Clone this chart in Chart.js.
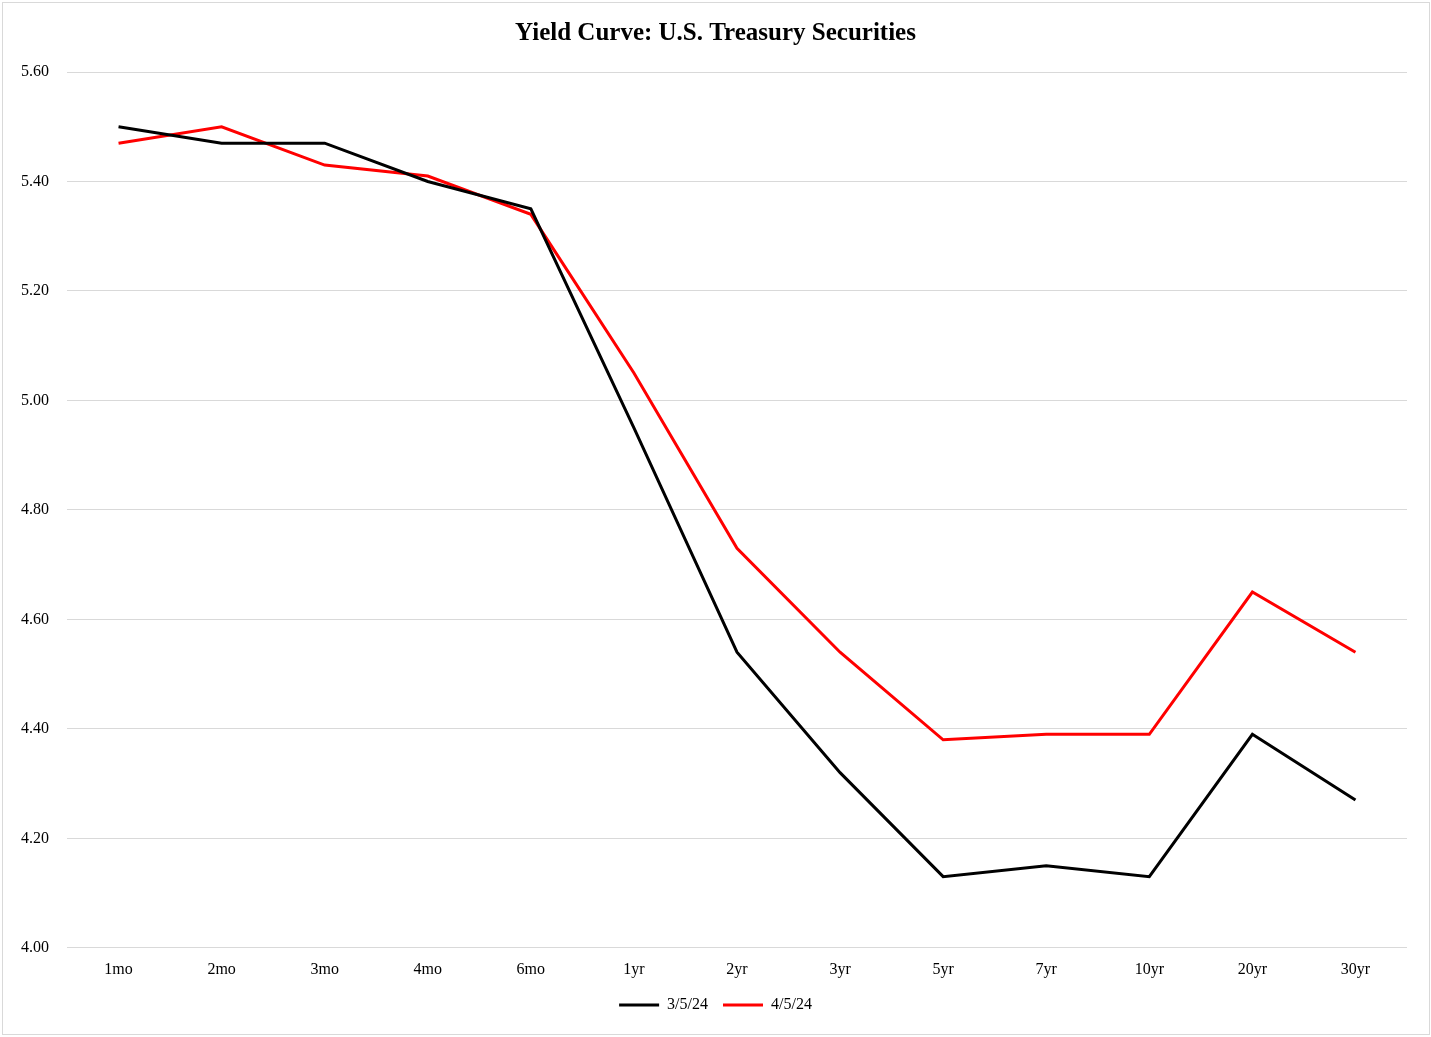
<!DOCTYPE html>
<html>
<head>
<meta charset="utf-8">
<script src="https://cdn.jsdelivr.net/npm/chart.js@4"></script>
<style>
  html, body { margin: 0; padding: 0; background: #fff; }
  #wrap { position: absolute; left: 0; top: 0; width: 1431px; height: 1037px; }
</style>
</head>
<body>
<div id="wrap"><canvas id="ctx" width="1431" height="1037"></canvas></div>
<script>
"use strict";
const maturities = ["1mo", "2mo", "3mo", "4mo", "6mo", "1yr", "2yr", "3yr", "5yr", "7yr", "10yr", "20yr", "30yr"];
const march = [5.50, 5.47, 5.47, 5.40, 5.35, 4.95, 4.54, 4.32, 4.13, 4.15, 4.13, 4.39, 4.27];
const april = [5.47, 5.50, 5.43, 5.41, 5.34, 5.05, 4.73, 4.54, 4.38, 4.39, 4.39, 4.65, 4.54];
const seriesNames = ["3/5/24", "4/5/24"];
const yMin = 4.0;
const yMax = 5.6;
const yStep = 0.2;

const serif = "'Liberation Serif', 'Times New Roman', serif";

// light grey frame round the whole picture
const framePlugin = {
  id: "frame",
  beforeDraw(chart) {
    let c = chart.ctx;
    c.save();
    c.fillStyle = "#fff";
    c.fillRect(0, 0, chart.width, chart.height);
    c.strokeStyle = "#d9d9d9";
    c.lineWidth = 1;
    c.strokeRect(2.5, 2.5, chart.width - 4, chart.height - 5);
    c.restore();
  }
};

let ctx = document.getElementById("ctx").getContext("2d");
const myChart = new Chart(ctx, {
  type: "line",
  plugins: [framePlugin],
  data: {
    labels: maturities,
    datasets: [
      { label: seriesNames[0], data: march, borderColor: "#000000", backgroundColor: "#000000", borderWidth: 3, pointRadius: 0, tension: 0 },
      { label: seriesNames[1], data: april, borderColor: "#ff0000", backgroundColor: "#ff0000", borderWidth: 3, pointRadius: 0, tension: 0 },
    ],
  },
  options: {
    responsive: false,
    animation: false,
    layout: { padding: { left: 0, right: 0, top: 0, bottom: 14 } },
    plugins: {
      title: {
        display: true,
        text: "Yield Curve: U.S. Treasury Securities",
        color: "#000",
        font: { family: serif, size: 25, weight: "bold", lineHeight: 1.2 },
        padding: { top: 19, bottom: 23 },
      },
      legend: {
        position: "bottom",
        labels: {
          color: "#000",
          font: { family: serif, size: 16 },
          usePointStyle: true,
          pointStyle: "line",
          pointStyleWidth: 40,
          padding: 15,
        },
      },
      tooltip: { enabled: false },
    },
    scales: {
      x: {
        offset: true,
        grid: { display: false, drawTicks: false },
        border: { display: false },
        afterFit(scale) { scale.height -= 9; },
        ticks: { color: "#000", font: { family: serif, size: 16 }, padding: 12, maxRotation: 0 },
      },
      y: {
        min: yMin,
        max: yMax,
        grid: { color: "#d9d9d9", lineWidth: 1, drawTicks: false },
        border: { display: false },
        afterFit(scale) { scale.width = 67; },
        ticks: {
          stepSize: yStep,
          color: "#000",
          font: { family: serif, size: 16 },
          padding: 18,
          callback: (v) => Number(v).toFixed(2),
        },
      },
      // empty right-hand strip so the plot stops short of the frame
      spacer: {
        type: "linear",
        position: "right",
        grid: { display: false, drawTicks: false },
        border: { display: false },
        ticks: { display: false },
        afterFit(scale) { scale.width = 24; },
      },
    },
  },
});
</script>
</body>
</html>
